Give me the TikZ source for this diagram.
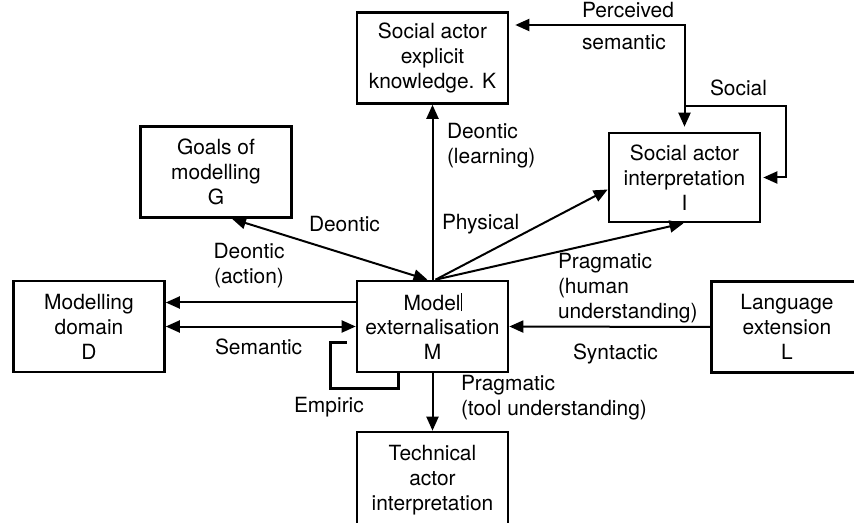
\documentclass[tikz,border=0pt]{standalone}
\usepackage{fontspec}
\setmainfont{TeX Gyre Heros}
\usetikzlibrary{arrows.meta,positioning}

\begin{document}
\begin{tikzpicture}[x=1bp, y=-1bp, >={Triangle[length=14bp,width=12bp]}, line width=2bp,
    box/.style={draw, line width=2.6bp, minimum width=151bp, minimum height=91bp,
        align=center, inner sep=0pt, font=\fontsize{21}{25}\selectfont},
    lbl/.style={inner sep=0pt, align=left, font=\fontsize{21}{25}\selectfont}]
    \useasboundingbox (0,0) rectangle (854,523);

    % boxes
    \node[box] (K) at (432.5,58) {Social actor\\explicit\\knowledge. K};
    \node[box] (G) at (216,172) {Goals of\\modelling\\G};
    \node[box, minimum height=89bp] (I) at (684.5,177.5) {Social actor\\interpretation\\I};
    \node[box] (D) at (89,326.5) {Modelling\\domain\\D};
    \node[box] (M) at (432.5,326.5) {Model\rule[-1bp]{0.9bp}{18bp}\\externalisation\\M};
    \node[box] (L) at (787,327) {Language\\extension\\L};
    \node[box, minimum height=96bp] (T) at (432.5,480) {Technical\\actor\\interpretation};

    % connectors from M
    \draw[->] (M.north) -- (K.south);
    \draw[<->] ([xshift=16bp]G.south) -- ([xshift=-5bp]M.north);
    \draw[->] ([xshift=3bp]M.north) -- ([yshift=-12bp]I.west);
    \draw[->] ([xshift=3bp]M.north) -- ([xshift=-1bp]I.south);
    \draw[->] ([yshift=24bp]M.west) -- ([yshift=24bp]D.east);
    \draw[<->] (D.east) -- (M.west);
    \draw[->] (L.west) -- (M.east);
    \draw[->] (M.south) -- (T.north);
    \draw[line width=2.6bp] ([xshift=-9bp,yshift=-16bp]M.west) -- ++(-16,0) -- ++(0,46) -- ++(68,0) -- ++(0,-16);

    % connectors round I
    \draw[<->] ([xshift=6bp,yshift=33bp]K.east) -| ([yshift=5bp]I.north);
    \draw[->] ([yshift=26bp]I.north) -- ++(101,0) |- ([xshift=2bp]I.east);

    % labels
    \node[lbl, anchor=west] (lperc) at (581,10) {Perceived};
    \node[lbl, anchor=west] (lsem1) at (581,42) {semantic};
    \node[lbl, anchor=west] (lsoc) at (709,88) {Social};
    \node[lbl, anchor=west] (llearn) at (446,146) {Deontic\\(learning)};
    \node[lbl, anchor=west] (ldeon) at (308,224) {Deontic};
    \node[lbl, anchor=west] (lphys) at (441,224) {Physical};
    \node[lbl, align=center] (lact) at (249,266) {Deontic\\(action)};
    \node[lbl, anchor=west] (lhum) at (557,288) {Pragmatic\\(human\\understanding)};
    \node[lbl, anchor=west] (lsem2) at (214,347) {Semantic};
    \node[lbl, anchor=west] (lsyn) at (572,354) {Syntactic};
    \node[lbl, anchor=west] (lemp) at (293,407) {Empiric};
    \node[lbl, anchor=west] (ltool) at (460,398) {Pragmatic\\(tool understanding)};
\end{tikzpicture}
\end{document}
